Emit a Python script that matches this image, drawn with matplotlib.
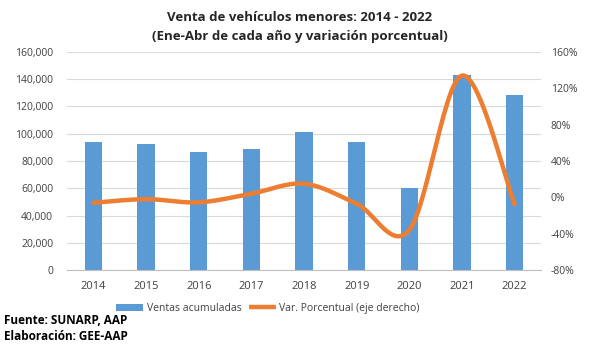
import numpy as np
import matplotlib
matplotlib.use('Agg')
import matplotlib.pyplot as plt
from matplotlib.patches import Patch
from matplotlib.lines import Line2D
from matplotlib.ticker import FuncFormatter

# Data.
years = ['2014', '2015', '2016', '2017', '2018', '2019', '2020', '2021', '2022']
ventas = [94200, 92500, 86600, 89000, 101300, 94000, 60400, 143000, 128400]
var_pct = [-6, -2, -5.5, 4, 15, -7, -36, 134, -7.5]

bar_color = '#5B9BD5'
line_color = '#ED7D31'
text_color = '#404040'


def smooth_curve(x, y, n=30):
    # Excel-style smoothed line: cubic Bezier between points,
    # control points from neighbouring points (tension 1/6).
    x = np.asarray(x, float)
    y = np.asarray(y, float)
    xs, ys = [], []
    for i in range(len(x) - 1):
        p0 = np.array([x[max(i - 1, 0)], y[max(i - 1, 0)]])
        p1 = np.array([x[i], y[i]])
        p2 = np.array([x[i + 1], y[i + 1]])
        p3 = np.array([x[min(i + 2, len(x) - 1)], y[min(i + 2, len(x) - 1)]])
        c1 = p1 + (p2 - p0) / 6
        c2 = p2 - (p3 - p1) / 6
        t = np.linspace(0, 1, n)[:, None]
        pts = ((1 - t) ** 3) * p1 + 3 * ((1 - t) ** 2) * t * c1 + 3 * (1 - t) * t ** 2 * c2 + t ** 3 * p2
        xs.extend(pts[:, 0])
        ys.extend(pts[:, 1])
    return np.array(xs), np.array(ys)


plt.rcParams['font.family'] = ['Open Sans', 'DejaVu Sans']

fig = plt.figure(figsize=(5.99, 3.44), dpi=100)
ax = fig.add_axes([0.112, 0.215, 0.791, 0.634])
x = np.arange(len(years))

ax.bar(x, ventas, width=0.33, color=bar_color, zorder=2)
ax.set_xlim(-0.5, len(years) - 0.5)
ax.set_ylim(0, 160000)
ax.set_yticks(np.arange(0, 160001, 20000))
ax.yaxis.set_major_formatter(FuncFormatter(lambda v, p: f'{int(v):,}'))
ax.set_xticks(x)
ax.set_xticklabels(years)
ax.grid(axis='y', color='#D9D9D9', linewidth=0.8, zorder=0)
ax.set_axisbelow(True)
for s in ['top', 'right', 'left']:
    ax.spines[s].set_visible(False)
ax.spines['bottom'].set_color('#BFBFBF')
ax.tick_params(axis='both', length=0, labelsize=7.5, colors=text_color)
ax.tick_params(axis='x', labelsize=8, pad=8)
ax.tick_params(axis='y', pad=10)

ax2 = ax.twinx()
sx, sy = smooth_curve(x, var_pct)
ax2.plot(sx, sy, color=line_color, linewidth=3.2, solid_capstyle='round', zorder=3)
ax2.set_ylim(-80, 160)
ax2.set_yticks(np.arange(-80, 161, 40))
ax2.yaxis.set_major_formatter(FuncFormatter(lambda v, p: f'{int(v)}%'))
for s in ['top', 'right', 'left', 'bottom']:
    ax2.spines[s].set_visible(False)
ax2.tick_params(axis='y', length=0, labelsize=7.5, colors=text_color, pad=7)

fig.text(0.5, 0.950, 'Venta de vehículos menores: 2014 - 2022', ha='center', va='center',
         fontsize=9.5, fontweight='bold', color='#262626')
fig.text(0.5, 0.893, '(Ene-Abr de cada año y variación porcentual)', ha='center', va='center',
         fontsize=9.5, fontweight='bold', color='#262626')

handles = [Patch(facecolor=bar_color, label='Ventas acumuladas'),
           Line2D([0], [0], color=line_color, linewidth=3.2, solid_capstyle='butt',
                  label='Var. Porcentual (eje derecho)')]
fig.legend(handles=handles, loc='center', bbox_to_anchor=(0.447, 0.103), ncol=2, frameon=False,
           fontsize=7.5, handlelength=2.6, handletextpad=0.35, columnspacing=0.7,
           labelcolor=text_color)

fig.text(0.007, 0.05, 'Fuente: SUNARP, AAP', ha='left', va='bottom',
         fontsize=8.5, fontweight='bold', color='black')
fig.text(0.007, 0.004, 'Elaboración: GEE-AAP', ha='left', va='bottom',
         fontsize=8.5, fontweight='bold', color='black')

fig.savefig('out.png', dpi=100)
